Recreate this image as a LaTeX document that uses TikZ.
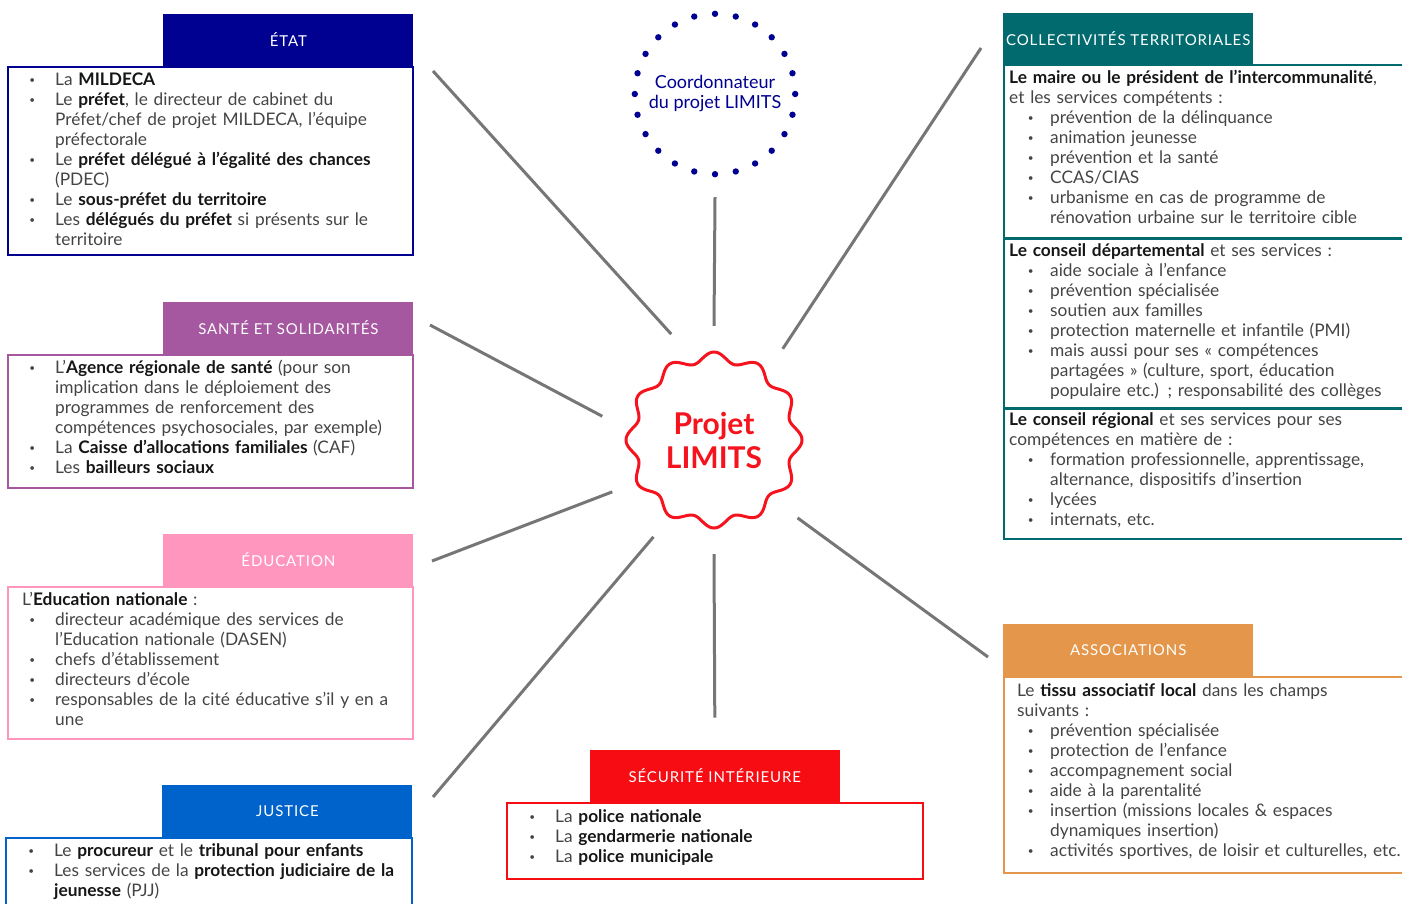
\documentclass[tikz,border=0pt]{standalone}
\usepackage{fontspec}
\setmainfont{Lato}
\newfontfamily\headfont[LetterSpace=6]{Lato}
\usepackage{tikz, xcolor}
\usetikzlibrary{positioning}

\definecolor{etatblue}{HTML}{000091}
\definecolor{santepurple}{HTML}{A558A0}
\definecolor{educpink}{HTML}{FF96BE}
\definecolor{justblue}{HTML}{0063CB}
\definecolor{collteal}{HTML}{006A6F}
\definecolor{assoorange}{HTML}{E4964A}
\definecolor{secured}{HTML}{F60C12}
\definecolor{limred}{HTML}{F5131E}
\definecolor{linkgray}{HTML}{767676}
\definecolor{bodygray}{HTML}{444444}
\definecolor{boldgray}{HTML}{161616}

\newlength{\bulind}
\newlength{\bulgap}
\newcommand{\bulmark}{\raisebox{0.25ex}{\fontsize{10}{10}\selectfont\textbullet}}
\newcommand{\bul}[1]{\par{\leftskip=\bulind\noindent\strut\llap{\bulmark\hspace{\bulgap}}#1\par}}
\newcommand{\intro}[1]{\par{\noindent\strut#1\par}}
\newcommand{\bb}[1]{\textbf{\color{boldgray}#1}}

\begin{document}
\begin{tikzpicture}
	[
		x=1pt, y=-1pt,
		hdr/.style={fill=#1, text=white, minimum width=250, minimum height=52, inner sep=0, font=\headfont\fontsize{15}{15}\selectfont},
		box/.style={draw=#1, line width=1.6pt, minimum width=405, inner sep=0, anchor=north west},
		txt/.style 2 args={anchor=north west, inner sep=0, text width=400, align=left, text=bodygray, font=\fontsize{17.3}{20}\selectfont, execute at begin node={\setlength{\bulind}{#1}\setlength{\bulgap}{#2}}},
		link/.style={draw=linkgray, line width=3pt}
	]
	
	% Fix the page.
	\useasboundingbox (0,0) rectangle (1402,903);
	\clip (0,0) rectangle (1402,903);
	
	% Draw the centre.
	\draw[limred, line width=3pt] plot[domain=0:360, samples=361]
		({714+(83+5*cos(12*\x))*cos(\x)}, {440+(83+5*cos(12*\x))*sin(\x)}) -- cycle;
	\node[circle, minimum size=228, inner sep=0, align=center, text=limred,
		font=\bfseries\fontsize{30}{34}\selectfont] (projet) at (714,440) {Projet\\LIMITS};
	
	% Draw the coordinator.
	\node[circle, minimum size=160, inner sep=0, align=center, text=etatblue,
		font=\fontsize{18}{20}\selectfont] (coord) at (715,94) {Coordonnateur\\du projet LIMITS};
	\foreach \a in {0,15,...,345}
		\fill[etatblue] (coord.\a) circle (3.2);
	
	% Draw left boxes.
	\node[box=etatblue, minimum height=188] (etat-box) at (7,66) {};
	\node[hdr=etatblue, anchor=south east] (etat-hd) at (etat-box.north east) {ÉTAT};
	\node[txt={33pt}{20pt}] (etat-txt) at ([xshift=15, yshift=1]etat-box.north west) {%
		\bul{La \bb{MILDECA}}
		\bul{Le \bb{préfet}, le directeur de cabinet du\newline Préfet/chef de projet MILDECA, l’équipe\newline préfectorale}
		\bul{Le \bb{préfet délégué à l’égalité des chances}\newline (PDEC)}
		\bul{Le \bb{sous-préfet du territoire}}
		\bul{Les \bb{délégués du préfet} si présents sur le\newline territoire}};
	
	\node[box=santepurple, minimum height=133] (sante-box) at (7,354) {};
	\node[hdr=santepurple, anchor=south east] (sante-hd) at (sante-box.north east) {SANTÉ ET SOLIDARITÉS};
	\node[txt={33pt}{20pt}] (sante-txt) at ([xshift=15, yshift=1]sante-box.north west) {%
		\bul{L’\bb{Agence régionale de santé} (pour son\newline implication dans le déploiement des\newline programmes de renforcement des\newline compétences psychosociales, par exemple)}
		\bul{La \bb{Caisse d’allocations familiales} (CAF)}
		\bul{Les \bb{bailleurs sociaux}}};
	
	\node[box=educpink, minimum height=152] (educ-box) at (7,586) {};
	\node[hdr=educpink, anchor=south east] (educ-hd) at (educ-box.north east) {ÉDUCATION};
	\node[txt={33pt}{20pt}] (educ-txt) at ([xshift=15, yshift=1]educ-box.north west) {%
		\intro{L’\bb{Education nationale} :}
		\bul{directeur académique des services de\newline l’Education nationale (DASEN)}
		\bul{chefs d’établissement}
		\bul{directeurs d’école}
		\bul{responsables de la cité éducative s’il y en a\newline une}};
	
	\node[box=justblue, minimum width=406, minimum height=90] (just-box) at (5,837) {};
	\node[hdr=justblue, anchor=south east] (just-hd) at (just-box.north east) {JUSTICE};
	\node[txt={34pt}{20pt}] (just-txt) at ([xshift=15, yshift=1]just-box.north west) {%
		\bul{Le \bb{procureur} et le \bb{tribunal pour enfants}}
		\bul{Les services de la \bb{protection judiciaire de la}\newline \bb{jeunesse} (PJJ)}};
	
	% Draw bottom box.
	\node[box=secured, minimum width=416, minimum height=76] (secu-box) at (506,802) {};
	\node[hdr=secured, anchor=south] (secu-hd) at (secu-box.north) {SÉCURITÉ INTÉRIEURE};
	\node[txt={34pt}{20pt}] (secu-txt) at ([xshift=15, yshift=0]secu-box.north west) {%
		\bul{La \bb{police nationale}}
		\bul{La \bb{gendarmerie nationale}}
		\bul{La \bb{police municipale}}};
	
	% Draw right boxes.
	\node[box=collteal, minimum width=420, minimum height=173] (coll-box1) at (1003,64) {};
	\node[box=collteal, minimum width=420, minimum height=168] (coll-box2) at (coll-box1.south west) {};
	\node[box=collteal, minimum width=420, minimum height=130] (coll-box3) at (coll-box2.south west) {};
	\node[hdr=collteal, minimum height=51, anchor=south west] (coll-hd) at (coll-box1.north west) {COLLECTIVITÉS TERRITORIALES};
	\node[txt={41pt}{16.5pt}] (coll-txt1) at ([xshift=6, yshift=1]coll-box1.north west) {%
		\intro{\bb{Le maire ou le président de l’intercommunalité},\newline et les services compétents :}
		\bul{prévention de la délinquance}
		\bul{animation jeunesse}
		\bul{prévention et la santé}
		\bul{CCAS/CIAS}
		\bul{urbanisme en cas de programme de\newline rénovation urbaine sur le territoire cible}};
	\node[txt={41pt}{16.5pt}] (coll-txt2) at ([xshift=6, yshift=2]coll-box2.north west) {%
		\intro{\bb{Le conseil départemental} et ses services :}
		\bul{aide sociale à l’enfance}
		\bul{prévention spécialisée}
		\bul{soutien aux familles}
		\bul{protection maternelle et infantile (PMI)}
		\bul{mais aussi pour ses « compétences\newline partagées » (culture, sport, éducation\newline populaire etc.) ; responsabilité des collèges}};
	\node[txt={41pt}{16.5pt}] (coll-txt3) at ([xshift=6, yshift=3]coll-box3.north west) {%
		\intro{\bb{Le conseil régional} et ses services pour ses\newline compétences en matière de :}
		\bul{formation professionnelle, apprentissage,\newline alternance, dispositifs d’insertion}
		\bul{lycées}
		\bul{internats, etc.}};
	
	\node[box=assoorange, minimum width=420, minimum height=196] (asso-box) at (1003,676) {};
	\node[hdr=assoorange, anchor=south west] (asso-hd) at (asso-box.north west) {ASSOCIATIONS};
	\node[txt={33pt}{16.5pt}] (asso-txt) at ([xshift=14, yshift=0]asso-box.north west) {%
		\intro{Le \bb{tissu associatif local} dans les champs\newline suivants :}
		\bul{prévention spécialisée}
		\bul{protection de l’enfance}
		\bul{accompagnement social}
		\bul{aide à la parentalité}
		\bul{insertion (missions locales \& espaces\newline dynamiques insertion)}
		\bul{activités sportives, de loisir et culturelles, etc.}};
	
	% Draw links.
	\coordinate (etat-l) at (433,71);
	\coordinate (sante-l) at (430,325);
	\coordinate (educ-l) at (432,561);
	\coordinate (just-l) at (433,797);
	\coordinate (coll-l) at (981,48);
	\coordinate (asso-l) at (988,657);
	\draw[link] (etat-l) -- (projet.112);
	\draw[link] (sante-l) -- (projet.168);
	\draw[link] (educ-l) -- (projet.207);
	\draw[link] (just-l) -- (projet.238);
	\draw[link] (coll-l) -- (projet.53);
	\draw[link] (asso-l) -- (projet.317);
	\draw[link] ([yshift=-23]coord.south) -- (projet.90);
	\draw[link] (projet.270) -- ([yshift=32]secu-hd.north);
\end{tikzpicture}
\end{document}
